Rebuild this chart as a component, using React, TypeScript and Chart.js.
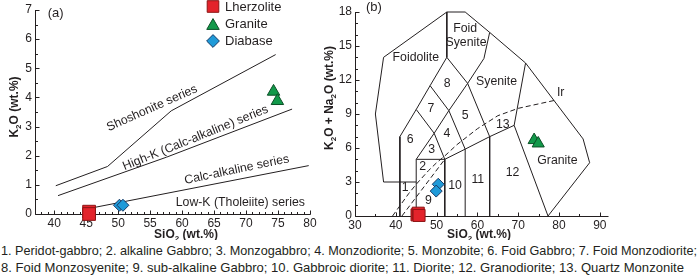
import React, { useEffect, useLayoutEffect, useRef } from 'react';
import { Chart, registerables } from 'chart.js';
Chart.register(...registerables);

const FF = "'Liberation Sans', Arial, Helvetica, sans-serif";
const INK = '#231f20';
const RED = '#e3232b', RED_E = '#8c1414';
const GREEN = '#12994a', GREEN_E = '#0b4f26';
const BLUE = '#1f9ad8', BLUE_E = '#183a66';

// ---------------- Panel (a): K2O vs SiO2 ----------------
const aXTicks = [40, 45, 50, 55, 60, 65, 70, 75, 80];
const aYTicks = [0, 1, 2, 3, 4, 5, 6, 7];
const aLherzSiO2 = [45.46, 45.46];
const aLherzK2O = [0.08, 0.0];
const aGraniteSiO2 = [74.3, 74.9];
const aGraniteK2O = [4.2, 3.88];
const aDiabaseSiO2 = [50.2, 50.75];
const aDiabaseK2O = [0.3, 0.3];
const shoHkSiO2 = [40.25, 48.34, 58.3, 74.63];
const shoHkK2O = [0.97, 1.63, 3.54, 5.47];
const hkCaSiO2 = [40.6, 57.57, 77.2];
const hkCaK2O = [0.63, 1.95, 3.6];
const caThSiO2 = [45, 79.8];
const caThK2O = [0.17, 1.66];

// ---------------- Panel (b): TAS (plutonic) ----------------
const bXTicks = [30, 40, 50, 60, 70, 80, 90];
const bYTicks = [0, 3, 6, 9, 12, 15, 18];
const bLherzSiO2 = [45.2, 45.5, 45.7];
const bLherzAlk = [0.1, 0.25, 0.05];
const bGraniteSiO2 = [73.9, 74.9];
const bGraniteAlk = [6.7, 6.4];
const bDiabaseSiO2 = [50.4, 49.9];
const bDiabaseAlk = [2.8, 2.2];

const tasOuter = [[37, 3], [35, 9], [37, 14], [52.5, 18], [57, 18], [63, 16.2], [71.8, 13.5], [85.9, 6.8], [87.5, 4.7], [77.3, 0]];
const tasFoidoliteInner = [[52.5, 18], [52.5, 14], [48.4, 11.5], [45, 9.4], [41, 7], [41, 0]];
const tasPeridotTop = [[37, 3], [45, 3]];
const tasGabbro = [[45, 0], [45, 5], [52, 5], [52, 0]];
const tasFoidGabbroRight = [[45, 9.4], [49.4, 7.3], [45, 5]];
const tasMonzogabbroRight = [[49.4, 7.3], [52, 5]];
const tasFoidMonzodioriteRight = [[48.4, 11.5], [53, 9.3], [49.4, 7.3]];
const tasMonzodioriteRight = [[52.5, 14], [57.6, 11.7], [53, 9.3], [57, 5.9], [52, 5]];
const tasDiorite = [[57, 0], [57, 5.9], [63, 7], [63, 0]];
const tasFoidSyeniteRight = [[57.6, 11.7], [61.6, 13.9], [63, 16.2]];
const tasMonzoniteRight = [[57.6, 11.7], [63, 7], [69, 8], [71.8, 13.5]];
const tasGraniteLeft = [[69, 8], [77.3, 0]];
const irvineSiO2 = [39.2, 41, 43.2, 45, 48, 50, 52, 55, 60, 65, 70, 78.9];
const irvineAlk = [0, 0.9, 2.0, 2.8, 4.0, 4.7, 5.3, 6.3, 7.7, 8.85, 9.5, 10.2];
const alkTholSiO2 = [41.5, 52];
const alkTholAlk = [0, 5];

const tasSolid = [tasOuter, tasFoidoliteInner, tasPeridotTop, tasGabbro, tasFoidGabbroRight, tasMonzogabbroRight,
  tasFoidMonzodioriteRight, tasMonzodioriteRight, tasDiorite, tasFoidSyeniteRight, tasMonzoniteRight, tasGraniteLeft];

const captionLine1 = '1. Peridot-gabbro; 2. alkaline Gabbro; 3. Monzogabbro; 4. Monzodiorite; 5. Monzobite; 6. Foid Gabbro; 7. Foid Monzodiorite;';
const captionLine2 = '8. Foid Monzosyenite; 9. sub-alkaline Gabbro; 10. Gabbroic diorite; 11. Diorite; 12. Granodiorite; 13. Quartz Monzonite';

// ---------- label placement (not data) ----------
type Txt = { t: string; x: number; y: number; size?: number; angle?: number; align?: CanvasTextAlign };
const aTexts: Txt[] = [
  { t: '(a)', x: 39.0, y: 6.87, size: 13, align: 'left' },
  { t: 'Shoshonite series', x: 55.3, y: 3.63, angle: 24 },
  { t: 'High-K (Calc-alkaline) series', x: 62.1, y: 2.61, angle: 22 },
  { t: 'Calc-alkaline series', x: 68.55, y: 1.52, angle: 11.8 },
  { t: 'Low-K (Tholeiite) series', x: 69.1, y: 0.38 },
];
const bTexts: Txt[] = [
  { t: '(b)', x: 32.7, y: 18.36, size: 13, align: 'left' },
  { t: 'Foid', x: 57.0, y: 16.5 }, { t: 'Syenite', x: 57.2, y: 15.3 },
  { t: 'Foidolite', x: 44.9, y: 13.97 },
  { t: '8', x: 52.6, y: 11.7 }, { t: 'Syenite', x: 64.7, y: 11.9 },
  { t: '7', x: 48.6, y: 9.5 }, { t: '5', x: 57.0, y: 8.9 },
  { t: '6', x: 43.5, y: 6.7 }, { t: '4', x: 52.5, y: 7.3 },
  { t: '3', x: 48.8, y: 5.9 }, { t: '2', x: 46.6, y: 4.4 },
  { t: '13', x: 66.2, y: 8.1 }, { t: '12', x: 68.6, y: 3.8 },
  { t: 'Granite', x: 79.6, y: 4.9 }, { t: '1', x: 42.3, y: 2.5 },
  { t: '10', x: 54.5, y: 2.7 }, { t: '11', x: 60.1, y: 3.2 },
  { t: '9', x: 48.0, y: 1.4 }, { t: 'Ir', x: 80.4, y: 10.9 },
];

const pts = (xs: number[], ys: number[]) => xs.map((x, i) => ({ x, y: ys[i] }));
const pairs = (a: number[][]) => a.map(([x, y]) => ({ x, y }));

function lineDs(data: any[], dashed = false) {
  return {
    data, showLine: true, borderColor: INK, borderWidth: 1, pointRadius: 0, pointHoverRadius: 0,
    fill: false, tension: 0, borderDash: dashed ? [5, 3] : [], order: 2, clip: false,
  };
}
function markerDs(label: string, data: any[], style: string, r: number, fill: string, stroke: string) {
  return {
    label, data, showLine: false, pointStyle: style, pointRadius: r, pointHoverRadius: r,
    backgroundColor: fill, borderColor: stroke, pointBackgroundColor: fill, pointBorderColor: stroke,
    pointBorderWidth: 1, order: 0, clip: false,
  };
}

type Part = [string, boolean];
function drawRich(ctx: CanvasRenderingContext2D, parts: Part[], cx: number, cy: number, size: number, bold: boolean, angleDeg: number) {
  const fN = `${bold ? 'bold ' : ''}${size}px ${FF}`;
  const fS = `${bold ? 'bold ' : ''}${Math.round(size * 0.68)}px ${FF}`;
  let total = 0;
  const ws = parts.map(([t, sub]) => { ctx.font = sub ? fS : fN; const w = ctx.measureText(t).width; total += w; return w; });
  ctx.save();
  ctx.translate(cx, cy);
  ctx.rotate((-angleDeg * Math.PI) / 180);
  ctx.fillStyle = INK;
  ctx.textAlign = 'left';
  ctx.textBaseline = 'middle';
  let x = -total / 2;
  parts.forEach(([t, sub], i) => {
    ctx.font = sub ? fS : fN;
    ctx.fillText(t, x, sub ? size * 0.3 : 0);
    x += ws[i];
  });
  ctx.restore();
}

function drawMarker(ctx: CanvasRenderingContext2D, style: string, x: number, y: number, r: number, fill: string, stroke: string) {
  ctx.save();
  ctx.fillStyle = fill; ctx.strokeStyle = stroke; ctx.lineWidth = 1;
  ctx.beginPath();
  if (style === 'rect') { const s = r * Math.SQRT1_2; ctx.rect(x - s, y - s, 2 * s, 2 * s); }
  else if (style === 'triangle') { const h = r * Math.sin(Math.PI / 3); ctx.moveTo(x, y - r); ctx.lineTo(x + h, y + r / 2); ctx.lineTo(x - h, y + r / 2); ctx.closePath(); }
  else { ctx.moveTo(x, y - r); ctx.lineTo(x + r, y); ctx.lineTo(x, y + r); ctx.lineTo(x - r, y); ctx.closePath(); }
  ctx.fill(); ctx.stroke(); ctx.restore();
}

type FrameCfg = {
  id: string; xMin: number; xMax: number; xStep: number; xMajor: number; yMin: number; yMax: number; yStep: number; yMajor: number;
  texts: Txt[]; xTitle: { parts: Part[]; x: number; y: number }; yTitle: { parts: Part[]; x: number; y: number };
  legend?: boolean;
};

function framePlugin(cfg: FrameCfg) {
  return {
    id: 'frame-' + cfg.id,
    beforeDatasetsDraw(chart: any) {
      const { ctx, chartArea: ca } = chart;
      const xs = chart.scales.x, ys = chart.scales.y;
      ctx.save();
      ctx.strokeStyle = INK; ctx.lineWidth = 1;
      ctx.beginPath();
      const L = Math.round(ca.left) + 0.5, B = Math.round(ca.bottom) + 0.5;
      ctx.moveTo(L, Math.round(ca.top)); ctx.lineTo(L, B); ctx.lineTo(Math.round(ca.right) + 0.5, B);
      const nx = Math.round((cfg.xMax - cfg.xMin) / cfg.xStep);
      for (let i = 0; i <= nx; i++) {
        const v = cfg.xMin + i * cfg.xStep;
        const major = Math.abs(v / cfg.xMajor - Math.round(v / cfg.xMajor)) < 1e-6;
        const px = Math.round(xs.getPixelForValue(v)) + 0.5;
        ctx.moveTo(px, B); ctx.lineTo(px, B - (major ? 4 : 2.5));
      }
      const ny = Math.round((cfg.yMax - cfg.yMin) / cfg.yStep);
      for (let i = 0; i <= ny; i++) {
        const v = cfg.yMin + i * cfg.yStep;
        const major = Math.abs(v / cfg.yMajor - Math.round(v / cfg.yMajor)) < 1e-6;
        const py = Math.round(ys.getPixelForValue(v)) + 0.5;
        ctx.moveTo(L, py); ctx.lineTo(L + (major ? 4 : 2.5), py);
      }
      ctx.stroke();
      ctx.restore();
    },
    afterDatasetsDraw(chart: any) {
      const { ctx } = chart;
      const xs = chart.scales.x, ys = chart.scales.y;
      ctx.save();
      ctx.fillStyle = INK;
      ctx.textBaseline = 'middle';
      for (const tx of cfg.texts) {
        const px = xs.getPixelForValue(tx.x), py = ys.getPixelForValue(tx.y);
        const size = tx.size ?? 12.3;
        ctx.font = `${size}px ${FF}`;
        ctx.save();
        ctx.translate(px, py);
        ctx.rotate((-(tx.angle ?? 0) * Math.PI) / 180);
        ctx.textAlign = tx.align ?? 'center';
        ctx.fillText(tx.t, 0, 0);
        ctx.restore();
      }
      ctx.restore();
      drawRich(ctx, cfg.xTitle.parts, cfg.xTitle.x, cfg.xTitle.y, 12, true, 0);
      drawRich(ctx, cfg.yTitle.parts, cfg.yTitle.x, cfg.yTitle.y, 12, true, 90);
      if (cfg.legend) {
        const items: [string, string, number, string, string, number][] = [
          ['Lherzolite', 'rect', 8.2, RED, RED_E, 6.5],
          ['Granite', 'triangle', 7.2, GREEN, GREEN_E, 24],
          ['Diabase', 'rectRot', 6.4, BLUE, BLUE_E, 41],
        ];
        for (const [label, st, r, f, s, y] of items) {
          drawMarker(ctx, st, 213, st === 'triangle' ? y + 1.8 : y, r, f, s);
          ctx.save();
          ctx.fillStyle = INK; ctx.font = `13px ${FF}`; ctx.textAlign = 'left'; ctx.textBaseline = 'middle';
          ctx.fillText(label, 225, y + 0.5);
          ctx.restore();
        }
      }
    },
  };
}

function scaleOpts(min: number, max: number, ticks: number[], isX: boolean, fitSize: number) {
  return {
    type: 'linear', min, max,
    grid: { display: false, drawTicks: false }, border: { display: false },
    ticks: { color: INK, font: { family: FF, size: 12 }, padding: isX ? 2 : 3, maxRotation: 0, autoSkip: false },
    afterBuildTicks: (s: any) => { s.ticks = ticks.map((v) => ({ value: v })); },
    afterFit: (s: any) => {
      if (isX) s.height = fitSize; else s.width = fitSize;
      s.paddingLeft = 0; s.paddingRight = 0; s.paddingTop = 0; s.paddingBottom = 0;
    },
  };
}

function configA(): any {
  const datasets = [
    markerDs('Lherzolite', pts(aLherzSiO2, aLherzK2O), 'rect', 9, RED, RED_E),
    markerDs('Granite', pts(aGraniteSiO2, aGraniteK2O), 'triangle', 7.2, GREEN, GREEN_E),
    markerDs('Diabase', pts(aDiabaseSiO2, aDiabaseK2O), 'rectRot', 6, BLUE, BLUE_E),
    lineDs(pts(shoHkSiO2, shoHkK2O)),
    lineDs(pts(hkCaSiO2, hkCaK2O)),
    lineDs(pts(caThSiO2, caThK2O)),
  ];
  return {
    type: 'scatter',
    data: { datasets },
    options: {
      animation: false, responsive: false, maintainAspectRatio: false, events: [],
      layout: { padding: { left: 0, top: 4, right: 7, bottom: 0 } },
      plugins: { legend: { display: false }, tooltip: { enabled: false } },
      scales: { x: scaleOpts(37, 80, aXTicks, true, 26), y: scaleOpts(0, 7, aYTicks, false, 35) },
    },
    plugins: [framePlugin({
      id: 'a', xMin: 37, xMax: 80, xStep: 1, xMajor: 5, yMin: 0, yMax: 7, yStep: 0.5, yMajor: 1,
      texts: aTexts,
      xTitle: { parts: [['SiO', false], ['2', true], [' (wt.%)', false]], x: 186, y: 235 },
      yTitle: { parts: [['K', false], ['2', true], ['O (wt.%)', false]], x: 15, y: 107 },
      legend: true,
    })],
  };
}

function configB(): any {
  const datasets: any[] = [
    markerDs('Lherzolite', pts(bLherzSiO2, bLherzAlk), 'rect', 8.5, RED, RED_E),
    markerDs('Granite', pts(bGraniteSiO2, bGraniteAlk), 'triangle', 7, GREEN, GREEN_E),
    markerDs('Diabase', pts(bDiabaseSiO2, bDiabaseAlk), 'rectRot', 6, BLUE, BLUE_E),
    ...tasSolid.map((seg) => lineDs(pairs(seg))),
    lineDs(pts(irvineSiO2, irvineAlk), true),
    lineDs(pts(alkTholSiO2, alkTholAlk), true),
  ];
  return {
    type: 'scatter',
    data: { datasets },
    options: {
      animation: false, responsive: false, maintainAspectRatio: false, events: [],
      layout: { padding: { left: 0, top: 12, right: 92, bottom: 0 } },
      plugins: { legend: { display: false }, tooltip: { enabled: false } },
      scales: { x: scaleOpts(30, 92, bXTicks, true, 24), y: scaleOpts(0, 18, bYTicks, false, 35) },
    },
    plugins: [framePlugin({
      id: 'b', xMin: 30, xMax: 90, xStep: 5, xMajor: 10, yMin: 0, yMax: 18, yStep: 1, yMajor: 3,
      texts: bTexts,
      xTitle: { parts: [['SiO', false], ['2', true], [' (wt.%)', false]], x: 159, y: 235 },
      yTitle: { parts: [['K', false], ['2', true], ['O + Na', false], ['2', true], ['O (wt.%)', false]], x: 10, y: 98 },
    })],
  };
}

export default function App() {
  const aRef = useRef<HTMLCanvasElement>(null);
  const bRef = useRef<HTMLCanvasElement>(null);
  const l1 = useRef<HTMLSpanElement>(null);
  const l2 = useRef<HTMLSpanElement>(null);

  useEffect(() => {
    const ca = new Chart(aRef.current as HTMLCanvasElement, configA());
    const cb = new Chart(bRef.current as HTMLCanvasElement, configB());
    return () => { ca.destroy(); cb.destroy(); };
  }, []);

  useLayoutEffect(() => {
    const fit = (el: HTMLSpanElement | null, target: number) => {
      if (!el) return;
      el.style.transform = 'none';
      const w = el.getBoundingClientRect().width;
      if (w > 0) el.style.transform = `scaleX(${target / w})`;
    };
    fit(l1.current, 696);
    fit(l2.current, 683);
  }, []);

  const lineStyle: React.CSSProperties = { display: 'inline-block', transformOrigin: '0 0', whiteSpace: 'nowrap' };
  return (
    <div style={{ position: 'absolute', left: 0, top: 0, width: 700, height: 275, background: '#fff', overflow: 'hidden' }}>
      <canvas ref={aRef} width={320} height={240} style={{ position: 'absolute', left: 0, top: 0, width: 320, height: 240 }} />
      <canvas ref={bRef} width={380} height={240} style={{ position: 'absolute', left: 320, top: 0, width: 380, height: 240 }} />
      <div style={{ position: 'absolute', left: 1, top: 242, width: 700, font: `13px ${FF}`, color: INK, lineHeight: '17px' }}>
        <div><span ref={l1} style={lineStyle}>{captionLine1}</span></div>
        <div><span ref={l2} style={lineStyle}>{captionLine2}</span></div>
      </div>
    </div>
  );
}
